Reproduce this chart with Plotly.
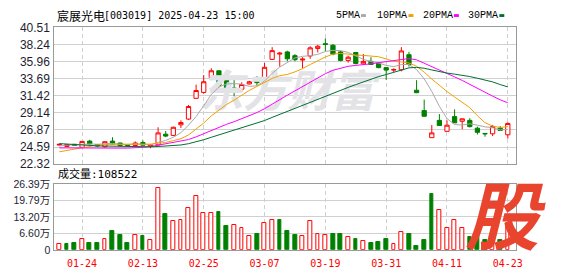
import plotly.graph_objects as go

W, H = 578, 276

dates = ["01-21", "01-22", "01-23", "01-24", "01-27",
         "02-05", "02-06", "02-07", "02-10", "02-11", "02-12", "02-13", "02-14",
         "02-17", "02-18", "02-19", "02-20", "02-21", "02-24", "02-25", "02-26", "02-27", "02-28",
         "03-03", "03-04", "03-05", "03-06", "03-07", "03-10", "03-11", "03-12", "03-13", "03-14",
         "03-17", "03-18", "03-19", "03-20", "03-21", "03-24", "03-25", "03-26", "03-27", "03-28", "03-31",
         "04-01", "04-02", "04-03", "04-07", "04-08", "04-09", "04-10", "04-11",
         "04-14", "04-15", "04-16", "04-17", "04-18", "04-21", "04-22", "04-23"]

opens = [24.86, 24.67, 24.96, 24.55, 25.38, 24.92, 24.63, 25.38, 25.13, 24.82,
         24.80, 25.18, 24.70, 24.88, 26.30, 26.14, 27.55, 28.31, 31.07, 31.86,
         33.83, 34.74, 33.70, 32.45, 32.28, 32.99, 33.53, 33.74, 36.25, 36.96,
         37.25, 36.75, 36.17, 36.71, 37.71, 38.34, 38.13, 37.25, 36.12, 37.17,
         35.66, 36.00, 35.75, 35.16, 34.83, 34.87, 36.88, 32.15, 29.44, 25.84,
         28.14, 26.68, 28.64, 28.02, 28.14, 27.10, 26.40, 26.35, 27.10, 26.22]
highs = [24.98, 24.98, 25.00, 25.36, 25.55, 25.00, 25.34, 25.89, 25.15, 24.88,
         25.34, 25.47, 24.90, 27.22, 26.72, 27.30, 28.14, 30.19, 32.90, 34.16,
         35.08, 34.80, 33.83, 33.62, 33.20, 33.40, 34.03, 35.79, 37.88, 37.25,
         37.40, 36.96, 36.54, 38.00, 38.21, 39.05, 38.30, 37.40, 36.75, 37.25,
         36.96, 36.54, 35.90, 35.25, 35.08, 37.88, 37.25, 33.49, 30.90, 27.52,
         28.98, 28.14, 29.60, 28.35, 28.43, 27.31, 26.47, 27.52, 27.39, 27.89]
lows = [24.80, 24.60, 24.75, 24.47, 24.96, 24.60, 24.50, 24.96, 24.63, 24.72,
        24.75, 24.80, 24.43, 24.80, 25.90, 26.05, 27.13, 28.20, 31.00, 31.70,
        33.49, 32.50, 31.90, 31.32, 31.95, 32.90, 32.78, 33.70, 36.20, 35.29,
        36.00, 36.00, 35.08, 36.33, 37.17, 37.38, 36.80, 36.00, 35.83, 35.58,
        35.50, 35.50, 35.08, 33.53, 34.58, 34.66, 35.29, 31.80, 28.65, 25.84,
        27.43, 26.68, 27.81, 26.97, 27.20, 26.26, 25.97, 26.05, 26.75, 25.72]
closes = [24.95, 24.92, 24.80, 25.34, 25.01, 24.72, 25.30, 25.00, 24.80, 24.78,
          25.13, 24.84, 24.86, 26.47, 26.05, 27.22, 27.85, 29.98, 32.11, 33.28,
          34.74, 32.78, 32.03, 32.32, 32.91, 33.28, 33.16, 35.20, 37.42, 37.08,
          36.33, 36.21, 36.29, 37.79, 38.00, 38.25, 36.96, 36.12, 36.54, 35.70,
          35.99, 35.58, 35.16, 34.83, 34.90, 37.38, 35.58, 31.82, 28.69, 26.47,
          27.45, 27.50, 27.81, 28.35, 27.31, 26.55, 26.35, 27.31, 26.80, 27.73]
# volume in units of 10,000 (万)
volumes = [2.4, 2.4, 2.8, 4.35, 2.8, 2.8, 4.35, 7.4, 5.9, 2.8,
           5.9, 5.5, 4.0, 24.8, 14.3, 11.7, 12.0, 16.7, 21.6, 14.7,
           14.7, 15.2, 9.35, 10.1, 8.6, 5.5, 6.3, 10.9, 12.0, 12.0,
           7.4, 5.9, 5.4, 11.5, 6.5, 5.9, 6.3, 6.3, 5.0, 4.35,
           3.5, 2.8, 3.2, 4.35, 2.3, 7.3, 6.3, 1.67, 4.0, 22.4,
           16.1, 8.8, 12.0, 8.8, 5.0, 7.0, 4.0, 6.0, 3.8, 10.8522]
# closes of the 29 sessions before the first visible one (needed for the moving averages)
prior_closes = [27.2, 27.0, 26.8, 26.6, 26.3, 26.0, 25.8, 25.6, 25.4, 25.3,
                25.2, 25.3, 25.1, 25.0, 25.2, 24.9, 24.8, 25.0, 24.7, 24.8,
                23.1, 22.9, 23.0, 23.3, 23.6, 24.3, 24.7, 24.9, 24.8]

price_ticks = [22.32, 24.59, 26.87, 29.14, 31.42, 33.69, 35.96, 38.24, 40.51]
vol_ticks = [0, 6.60, 13.20, 19.79, 26.39]
vol_tick_labels = ["0", "6.60万", "13.20万", "19.79万", "26.39万"]
date_ticks = ["01-24", "02-13", "02-25", "03-07", "03-19", "03-31", "04-11", "04-23"]
ma_periods = [5, 10, 20, 30]
ma_names = ["5PMA", "10PMA", "20PMA", "30PMA"]
ma_colors = ["#a8a8a8", "#f0a000", "#ff00ff", "#006f30"]

UP = "#ff0000"
DOWN = "#008000"


def px(x):
    return x / W


def py(y):
    return 1 - y / H


full = prior_closes + closes
n0 = len(prior_closes)


def moving_avg(p):
    return [sum(full[n0 + i - p + 1:n0 + i + 1]) / p for i in range(len(closes))]


fig = go.Figure()

# watermark (under the data)
fig.add_trace(go.Scatter(
    x=[dates[len(dates) // 2]], y=[(price_ticks[0] + price_ticks[-1]) / 2],
    mode="text", text=["东方财富"], hoverinfo="skip", showlegend=False,
    textfont=dict(family="Noto Sans CJK SC", size=44, color="#e3e3e7", weight="bold", style="italic"),
    xaxis="x", yaxis="y"))

for p, c in zip(ma_periods, ma_colors):
    fig.add_trace(go.Scatter(x=dates, y=moving_avg(p), mode="lines",
                             line=dict(color=c, width=1), showlegend=False,
                             hoverinfo="skip", xaxis="x", yaxis="y"))

fig.add_trace(go.Candlestick(
    x=dates, open=opens, high=highs, low=lows, close=closes,
    increasing=dict(line=dict(color=UP, width=1), fillcolor="#ffffff"),
    decreasing=dict(line=dict(color=DOWN, width=1), fillcolor=DOWN),
    whiskerwidth=0, showlegend=False, xaxis="x", yaxis="y"))

prev = [prior_closes[-1]] + closes[:-1]
up = [c >= pc for c, pc in zip(closes, prev)]
fig.add_trace(go.Bar(
    x=dates, y=volumes, width=0.5,
    marker=dict(color=["#ffffff" if u else DOWN for u in up],
                line=dict(color=[UP if u else DOWN for u in up], width=1)),
    showlegend=False, hoverinfo="skip", xaxis="x2", yaxis="y2"))

xdom = [px(55), px(522.5)]
xr = [-0.65, 60.1]
grid = "#d0d0d0"
border = "#999999"
label_color = "#1e1e32"

fig.update_layout(
    width=W, height=H, margin=dict(l=0, r=0, t=0, b=0),
    paper_bgcolor="white", plot_bgcolor="white",
    boxgap=0.2, boxgroupgap=0.3, bargap=0,
    showlegend=False,
    xaxis=dict(domain=xdom, range=xr, type="category", anchor="y",
               categoryorder="array", categoryarray=dates,
               tickmode="array", tickvals=date_ticks, showticklabels=False,
               showgrid=True, gridcolor=grid, griddash="4px,3px", gridwidth=1,
               showline=True, mirror=True, linecolor=border, linewidth=1,
               zeroline=False, ticks="", rangeslider=dict(visible=False), fixedrange=True),
    yaxis=dict(domain=[py(165.5), py(21.5)], range=[price_ticks[0], price_ticks[-1]], anchor="x",
               tickmode="array", tickvals=price_ticks, ticktext=[f"{v:.2f}" for v in price_ticks],
               tickfont=dict(family="Liberation Sans", size=12, color=label_color),
               showgrid=True, gridcolor=grid, gridwidth=1, zeroline=False,
               showline=True, mirror=True, linecolor=border, linewidth=1, ticks="",
               ticklabelstandoff=1),
    xaxis2=dict(domain=xdom, range=xr, type="category", anchor="y2", matches="x",
                categoryorder="array", categoryarray=dates,
                tickmode="array", tickvals=date_ticks, ticktext=date_ticks,
                tickfont=dict(family="DejaVu Sans Mono", size=10, color="#ff0000"),
                showgrid=True, gridcolor=grid, griddash="4px,3px", gridwidth=1,
                showline=True, mirror=True, linecolor=border, linewidth=1,
                zeroline=False, ticks="", ticklabelstandoff=4, rangeslider=dict(visible=False)),
    yaxis2=dict(domain=[py(255.8), py(186.5)], range=[vol_ticks[0], vol_ticks[-1]], anchor="x2",
                tickmode="array", tickvals=vol_ticks, ticktext=vol_tick_labels,
                tickfont=dict(family="Liberation Sans, Noto Sans CJK SC", size=10.5, color=label_color),
                showgrid=True, gridcolor=grid, gridwidth=1, zeroline=False,
                showline=True, mirror=True, linecolor=border, linewidth=1, ticks="",
                ticklabelstandoff=1),
)

# title
fig.add_annotation(xref="paper", yref="paper", x=px(56), y=py(9), xanchor="left", yanchor="middle",
                   text="宸展光电", showarrow=False,
                   font=dict(family="Noto Sans CJK SC", size=12, color="#000000"))
fig.add_annotation(xref="paper", yref="paper", x=px(103), y=py(9), xanchor="left", yanchor="middle",
                   text="[003019] 2025-04-23 15:00", showarrow=False,
                   font=dict(family="DejaVu Sans Mono", size=10, color="#000000"))

# legend
leg_x = [338, 380, 426, 472]
for name, c, lx in zip(ma_names, ma_colors, leg_x):
    fig.add_annotation(xref="paper", yref="paper", x=px(lx), y=py(9), xanchor="left", yanchor="middle",
                       text=name, showarrow=False,
                       font=dict(family="Liberation Mono", size=10, color="#000000"))
    x0 = lx + 6.1 * len(name) + 3
    fig.add_shape(type="rect", xref="paper", yref="paper", x0=px(x0), x1=px(x0 + 5),
                  y0=py(10.5), y1=py(7.5), fillcolor=c, line=dict(width=0))

# volume caption
fig.add_annotation(xref="paper", yref="paper", x=px(57), y=py(176), xanchor="left", yanchor="middle",
                   text=f"成交量:{round(volumes[-1] * 10000)}", showarrow=False,
                   font=dict(family="DejaVu Sans Mono, Noto Sans CJK SC", size=11, color="#000000"))

# logo watermark
fig.add_annotation(xref="paper", yref="paper", x=px(512), y=py(215), xanchor="center", yanchor="middle",
                   text="股", showarrow=False,
                   font=dict(family="Noto Sans CJK SC", size=74, color="#e8442e", weight="bold", style="italic"))

fig.write_html("out.html")
